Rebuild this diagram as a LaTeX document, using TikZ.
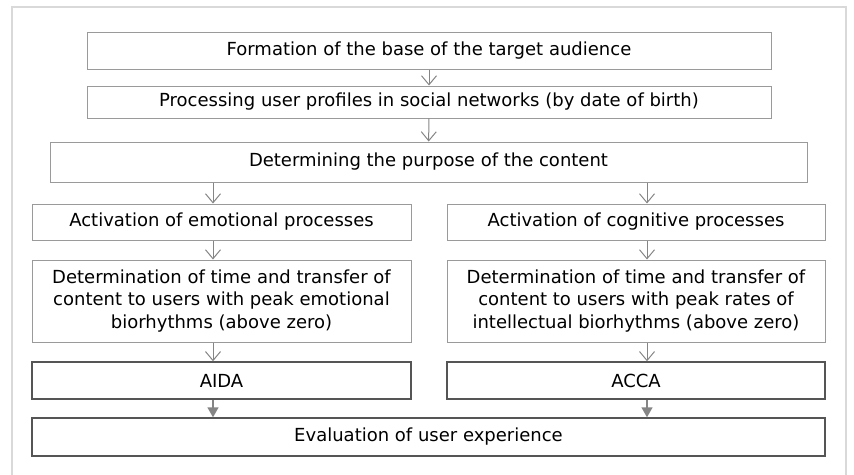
\documentclass[tikz,border=0pt]{standalone}
\usepackage{fontspec}
\setmainfont{DejaVu Sans}
\usepackage{tikz}
\usetikzlibrary{arrows.meta}

\definecolor{framegray}{HTML}{D9D9D9}
\definecolor{boxgray}{HTML}{9A9A9A}
\definecolor{darkgray}{HTML}{555555}
\definecolor{arrgray}{HTML}{858585}

\tikzset{
  box/.style={draw=boxgray, line width=1pt, inner sep=2pt, align=center,
    font=\fontsize{18}{22.5}\selectfont},
  darkbox/.style={box, draw=darkgray, line width=1.4pt},
  arr/.style={draw=arrgray, line width=1pt, -{Straight Barb[length=9pt,width=15pt]}},
  farr/.style={draw=arrgray, line width=1.4pt, -{Triangle[length=10pt,width=11pt]}}
}

\begin{document}
\begin{tikzpicture}[x=1pt, y=-1pt]
        \useasboundingbox (0, 0) rectangle (854, 474);
        \draw [framegray, line width=2.5pt] (12, 480) -- (12, 7) -- (846, 7) -- (846, 480);
        \node [box, minimum width=684pt, minimum height=37pt] (base) at (429, 50.5) {Formation of the base of the target audience};
        \node [box, minimum width=684pt, minimum height=32pt] (profiles) at (429, 102) {Processing user profiles in social networks (by date of birth)};
        \node [box, minimum width=757pt, minimum height=40pt] (purpose) at (428.5, 162) {Determining the purpose of the content};
        \node [box, minimum width=379pt, minimum height=36pt] (emo) at (221.5, 222) {Activation of emotional processes};
        \node [box, minimum width=378pt, minimum height=36pt] (cog) at (636, 222) {Activation of cognitive processes};
        \node [box, minimum width=379pt, minimum height=82pt] (emotime) at (221.5, 301) {Determination of time and transfer of\\content to users with peak emotional\\biorhythms (above zero)};
        \node [box, minimum width=378pt, minimum height=82pt] (cogtime) at (636, 301) {Determination of time and transfer of\\content to users with peak rates of\\intellectual biorhythms (above zero)};
        \node [darkbox, minimum width=379pt, minimum height=37pt] (aida) at (221.5, 380.5) {AIDA};
        \node [darkbox, minimum width=378pt, minimum height=37pt] (acca) at (636, 380.5) {ACCA};
        \node [darkbox, minimum width=793pt, minimum height=38pt] (eval) at (428.5, 437) {Evaluation of user experience};
        \draw [arr] (base) -- (profiles);
        \draw [arr] (profiles) -- (purpose);
        \draw [arr] ([xshift=-8.5pt]emo.north |- purpose.south) -- ([xshift=-8.5pt]emo.north);
        \draw [arr] ([xshift=11pt]cog.north |- purpose.south) -- ([xshift=11pt]cog.north);
        \draw [arr] ([xshift=-8.5pt]emo.south) -- ([xshift=-8.5pt]emotime.north);
        \draw [arr] ([xshift=11pt]cog.south) -- ([xshift=11pt]cogtime.north);
        \draw [arr] ([xshift=-8.5pt]emotime.south) -- ([xshift=-8.5pt]aida.north);
        \draw [arr] ([xshift=11pt]cogtime.south) -- ([xshift=11pt]acca.north);
        \draw [farr] ([xshift=-8.5pt]aida.south) -- ([xshift=-8.5pt]aida.south |- eval.north);
        \draw [farr] ([xshift=11pt]acca.south) -- ([xshift=11pt]acca.south |- eval.north);
    \end{tikzpicture}
\end{document}
